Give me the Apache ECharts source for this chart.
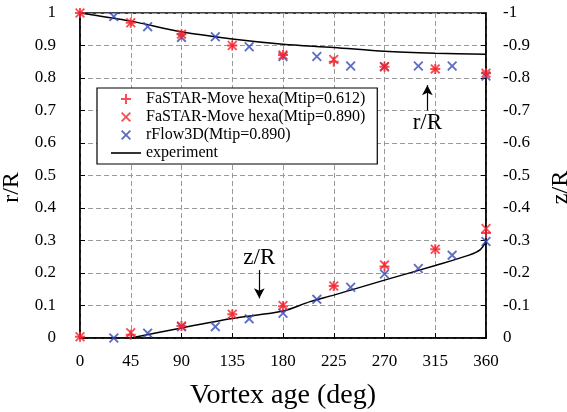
<!DOCTYPE html>
<html>
<head>
<meta charset="utf-8">
<script src="https://cdn.jsdelivr.net/npm/echarts@6/dist/echarts.min.js"></script>
<style>html,body{margin:0;background:#fff}#main{width:567px;height:412px}</style>
</head>
<body>
<div id="main"></div>
<script>
// series names
var nameA = 'FaSTAR-Move hexa(Mtip=0.612)';
var nameB = 'FaSTAR-Move hexa(Mtip=0.890)';
var nameC = 'rFlow3D(Mtip=0.890)';
var nameE = 'experiment';

var xTicks = [0, 45, 90, 135, 180, 225, 270, 315, 360];

// r/R (left axis)
var rFastar612 = [[0, 1.0], [45, 0.97], [90, 0.935], [135, 0.9], [180, 0.871], [225, 0.85], [270, 0.835], [315, 0.828], [360, 0.815]];
var rFastar890 = [[0, 1.0], [45, 0.97], [90, 0.935], [135, 0.9], [180, 0.871], [225, 0.857], [270, 0.835], [315, 0.828], [360, 0.815]];
var rFlow = [[30, 0.989], [60, 0.958], [90, 0.925], [120, 0.927], [150, 0.896], [180, 0.866], [210, 0.866], [240, 0.837], [270, 0.835], [300, 0.837], [330, 0.837], [360, 0.806]];
var rExp = [[0, 1.0], [45, 0.975], [90, 0.942], [135, 0.92], [180, 0.904], [225, 0.894], [270, 0.882], [315, 0.876], [360, 0.873]];

// z/R (right axis, inverted)
var zFastar612 = [[0, -0.004], [45, -0.01], [90, -0.037], [135, -0.073], [180, -0.098], [225, -0.16], [270, -0.22], [315, -0.273], [360, -0.323]];
var zFastar890 = [[0, -0.004], [45, -0.016], [90, -0.037], [135, -0.073], [180, -0.1], [225, -0.16], [270, -0.225], [315, -0.273], [360, -0.337]];
var zFlow = [[30, 0.0], [60, -0.015], [90, -0.035], [120, -0.035], [150, -0.059], [180, -0.076], [210, -0.119], [240, -0.156], [270, -0.197], [300, -0.214], [330, -0.255], [360, -0.297]];
var zExp = [[45, 0], [90, -0.031], [135, -0.06], [180, -0.083], [204, -0.112], [225, -0.132], [270, -0.178], [315, -0.223], [345, -0.255], [355, -0.272], [360, -0.297]];

var plusPath = 'path://M4,0H6V4H10V6H6V10H4V6H0V4H4Z';
var crossPath = 'path://M0,1.3L1.3,0L5,3.7L8.7,0L10,1.3L6.3,5L10,8.7L8.7,10L5,6.3L1.3,10L0,8.7L3.7,5Z';
var linePath = 'path://M0,0H30V1.6H0Z';
var red = '#f5222c';
var blue = '#3547b5';
var serif = 'Liberation Serif';

function pts(name, data, sym, color, axis) {
    return {
        name: name, type: 'scatter', data: data, yAxisIndex: axis,
        symbol: sym, symbolSize: 10,
        itemStyle: { color: color }, z: 3
    };
}

var chart = echarts.init(document.getElementById('main'));
chart.setOption({
    animation: false,
    textStyle: { fontFamily: serif },
    grid: { left: 80, right: 81, top: 13, bottom: 74, outerBoundsMode: 'none', containLabel: false,
        show: true, borderColor: '#000', borderWidth: 1.5 },
    legend: {
        left: 97, top: 88, orient: 'vertical', align: 'left',
        backgroundColor: '#fff', borderColor: '#000', borderWidth: 1.2,
        padding: [2, 12, 2, 14], itemGap: 0, itemWidth: 30, itemHeight: 10,
        textStyle: { fontFamily: serif, fontSize: 16, color: '#000', lineHeight: 18 },
        data: [
            { name: nameA, icon: plusPath, itemStyle: { color: red } },
            { name: nameB, icon: crossPath, itemStyle: { color: red } },
            { name: nameC, icon: crossPath, itemStyle: { color: blue } },
            { name: nameE, icon: linePath, itemStyle: { color: '#000' } }
        ]
    },
    xAxis: {
        type: 'value', min: 0, max: 360, interval: 45,
        name: 'Vortex age (deg)', nameLocation: 'middle', nameGap: 44,
        nameTextStyle: { fontFamily: serif, fontSize: 28, color: '#000' },
        axisLine: { lineStyle: { color: '#000', width: 1.5 } },
        axisTick: { inside: true, length: 5, lineStyle: { color: '#000' } },
        axisLabel: { fontFamily: serif, fontSize: 17, color: '#000', margin: 15,
            customValues: xTicks },
        splitLine: { show: true, lineStyle: { color: '#9a9a9a', type: [5, 3] } }
    },
    yAxis: [{
        type: 'value', min: 0, max: 1, interval: 0.1,
        name: 'r/R', nameLocation: 'middle', nameGap: 56,
        nameTextStyle: { fontFamily: serif, fontSize: 24, color: '#000', padding: [0, 24, 0, 0] },
        axisLine: { show: true, lineStyle: { color: '#000', width: 1.5 } },
        axisTick: { show: true, inside: true, length: 5, lineStyle: { color: '#000' } },
        axisLabel: { fontFamily: serif, fontSize: 17, color: '#000', margin: 24,
            formatter: function (v) { return +v.toFixed(1) + ''; } },
        splitLine: { show: true, lineStyle: { color: '#9a9a9a', type: [5, 3] } }
    }, {
        type: 'value', min: -1, max: 0, interval: 0.1, inverse: true, position: 'right',
        name: 'z/R', nameLocation: 'middle', nameGap: 63,
        nameTextStyle: { fontFamily: serif, fontSize: 24, color: '#000', padding: [0, 24, 0, 0] },
        axisLine: { show: true, lineStyle: { color: '#000', width: 1.5 } },
        axisTick: { show: true, inside: true, length: 5, lineStyle: { color: '#000' } },
        axisLabel: { fontFamily: serif, fontSize: 17, color: '#000', margin: 17,
            formatter: function (v) { return +v.toFixed(1) + ''; } },
        splitLine: { show: false }
    }],
    series: [
        {
            name: nameE, type: 'line', data: rExp, yAxisIndex: 0, smooth: 0.3,
            symbol: 'none', lineStyle: { color: '#000', width: 1.5 }, itemStyle: { color: '#000' },
            markLine: {
                silent: true, symbol: ['none', 'arrow'], symbolSize: [8, 10],
                lineStyle: { color: '#000', width: 1.2, type: 'solid' },
                label: { show: true, position: 'start', distance: 1, fontFamily: serif, fontSize: 23, color: '#000' },
                data: [
                    [{ coord: [308, 0.70], name: 'r/R', label: { formatter: 'r/R' } }, { coord: [308, 0.778] }],
                    [{ coord: [159, 0.209], name: 'z/R', label: { formatter: 'z/R' } }, { coord: [159, 0.122] }]
                ]
            }
        },
        {
            name: nameE, type: 'line', data: zExp, yAxisIndex: 1, smooth: 0.3,
            symbol: 'none', lineStyle: { color: '#000', width: 1.5 }, itemStyle: { color: '#000' }
        },
        pts(nameC, rFlow, crossPath, blue, 0),
        pts(nameC, zFlow, crossPath, blue, 1),
        pts(nameA, rFastar612, plusPath, red, 0),
        pts(nameA, zFastar612, plusPath, red, 1),
        pts(nameB, rFastar890, crossPath, red, 0),
        pts(nameB, zFastar890, crossPath, red, 1)
    ]
});
</script>
</body>
</html>
